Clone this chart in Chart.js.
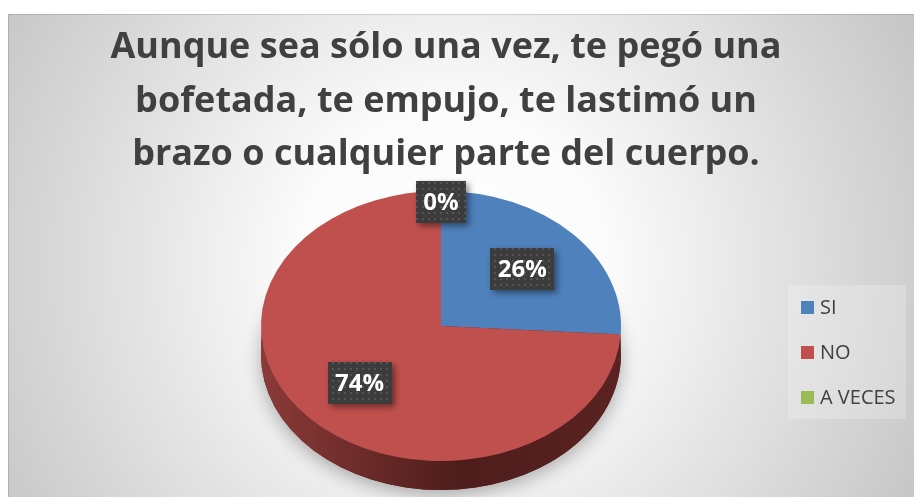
<!DOCTYPE html>
<html>
<head>
<meta charset="utf-8">
<script src="https://cdn.jsdelivr.net/npm/chart.js@4.4.1/dist/chart.umd.min.js"></script>
<style>
  html, body { margin: 0; padding: 0; background: #fff; overflow: hidden; }
  #wrap { width: 914px; height: 497px; overflow: hidden; }
</style>
</head>
<body>
<div id="wrap"><canvas id="pieChart" width="914" height="520"></canvas></div>
<script>
// chart data
const titleLines = [
    'Aunque sea sólo una vez, te pegó una',
    'bofetada, te empujo, te lastimó un',
    'brazo o cualquier parte del cuerpo.'
];
const categories = ['SI', 'NO', 'A VECES'];
const values = [26, 74, 0];
const sliceColors = ['#4F81BD', '#C0504D', '#9BBB59'];
const sideColors = [
    ['#4069a0', '#22405f', '#2a4a70'],
    ['#8c3a38', '#4d1d1c', '#5a2321'],
    ['#7a9446', '#475829', '#55662f']
];

const VIEW_H = 497;  // visible height, the canvas runs a bit past it
const TILT = 0.75;   // vertical squash of the pie top
const DEPTH = 29;    // thickness of the 3d side
const TEXT = '#404040';

// dotted fill used behind the data labels
function makeDots() {
    const c = document.createElement('canvas');
    c.width = 6; c.height = 6;
    const g = c.getContext('2d');
    g.fillStyle = '#3c3c3c';
    g.fillRect(0, 0, 6, 6);
    g.fillStyle = '#545454';
    g.fillRect(2, 2, 2, 2);
    return c;
}
const dotTile = makeDots();

function sideRanges(start, end) {
    const out = [];
    [-2 * Math.PI, 0, 2 * Math.PI].forEach(k => {
        const a0 = Math.max(start + k, 0);
        const a1 = Math.min(end + k, Math.PI);
        if (a1 > a0) out.push([a0, a1]);
    });
    return out;
}

const excelLook = {
    id: 'excelLook',
    beforeDraw(chart) {
        const ctx = chart.ctx;
        const W = chart.width, H = chart.height;
        ctx.save();
        ctx.fillStyle = '#ffffff';
        ctx.fillRect(0, 0, W, H);
        const bg = ctx.createRadialGradient(452, 265, 0, 452, 265, 520);
        bg.addColorStop(0, '#ffffff');
        bg.addColorStop(0.3, '#fbfbfb');
        bg.addColorStop(1, '#c6c6c6');
        ctx.fillStyle = bg;
        ctx.fillRect(8, 14, W - 8, VIEW_H - 14);
        ctx.strokeStyle = 'rgba(0,0,0,0.12)';
        ctx.lineWidth = 1;
        ctx.strokeRect(8.5, 14.5, W - 8, VIEW_H - 14);
        ctx.restore();
    },
    beforeDatasetsDraw(chart) {
        const ctx = chart.ctx;
        const arcs = chart.getDatasetMeta(0).data;
        const cx = arcs[0].x, cy = arcs[0].y, r = arcs[0].outerRadius;
        const ry = r * TILT;

        // soft shadow under the pie
        ctx.save();
        ctx.shadowColor = 'rgba(0,0,0,0.3)';
        ctx.shadowBlur = 18;
        ctx.shadowOffsetY = 5;
        ctx.fillStyle = '#5a2321';
        ctx.beginPath();
        ctx.ellipse(cx, cy + DEPTH, r, ry, 0, 0, 2 * Math.PI);
        ctx.fill();
        ctx.restore();

        // front wall of each slice
        arcs.forEach((arc, i) => {
            sideRanges(arc.startAngle, arc.endAngle).forEach(([a0, a1]) => {
                const grad = ctx.createLinearGradient(cx - r, 0, cx + r, 0);
                grad.addColorStop(0, sideColors[i][0]);
                grad.addColorStop(0.55, sideColors[i][1]);
                grad.addColorStop(1, sideColors[i][2]);
                ctx.fillStyle = grad;
                ctx.beginPath();
                ctx.ellipse(cx, cy, r, ry, 0, a0, a1, false);
                ctx.ellipse(cx, cy + DEPTH, r, ry, 0, a1, a0, true);
                ctx.closePath();
                ctx.fill();
            });
        });

        // tilt the pie top
        ctx.save();
        ctx.translate(cx, cy);
        ctx.scale(1, TILT);
        ctx.translate(-cx, -cy);
    },
    afterDatasetsDraw(chart) {
        const ctx = chart.ctx;
        ctx.restore();

        const arcs = chart.getDatasetMeta(0).data;
        const total = values.reduce((a, b) => a + b, 0);
        const pattern = ctx.createPattern(dotTile, 'repeat');
        ctx.save();
        ctx.font = 'bold 24px "Open Sans"';
        ctx.textAlign = 'center';
        ctx.textBaseline = 'middle';
        arcs.forEach((arc, i) => {
            const mid = (arc.startAngle + arc.endAngle) / 2;
            const f = values[i] > 0 ? 0.62 : 0.92;
            const x = arc.x + Math.cos(mid) * arc.outerRadius * f;
            const y = arc.y + Math.sin(mid) * arc.outerRadius * f * TILT;
            const txt = Math.round(values[i] / total * 100) + '%';
            const w = ctx.measureText(txt).width + 15;
            const h = 42;
            ctx.save();
            ctx.shadowColor = 'rgba(0,0,0,0.45)';
            ctx.shadowBlur = 6;
            ctx.shadowOffsetX = 3;
            ctx.shadowOffsetY = 3;
            ctx.fillStyle = pattern;
            ctx.fillRect(Math.round(x - w / 2), Math.round(y - h / 2), Math.round(w), h);
            ctx.restore();
            ctx.fillStyle = '#ffffff';
            ctx.fillText(txt, x, y + 1);
        });
        ctx.restore();
    },
    afterDraw(chart) {
        const ctx = chart.ctx;
        ctx.save();
        // title
        ctx.fillStyle = TEXT;
        ctx.font = 'bold 36px "Open Sans"';
        ctx.textAlign = 'center';
        ctx.textBaseline = 'middle';
        titleLines.forEach((line, i) => ctx.fillText(line, 446, 48 + i * 53.5));

        // legend
        ctx.fillStyle = 'rgba(255,255,255,0.22)';
        ctx.fillRect(788, 285, 118, 134);
        ctx.font = '20px "Open Sans"';
        ctx.textAlign = 'left';
        categories.forEach((name, i) => {
            const y = 307 + i * 45;
            ctx.fillStyle = sliceColors[i];
            ctx.fillRect(801, y - 6, 13, 13);
            ctx.fillStyle = TEXT;
            ctx.fillText(name, 820, y + 1);
        });
        ctx.restore();
    }
};

new Chart(document.getElementById('pieChart').getContext('2d'), {
    type: 'pie',
    data: {
        labels: categories,
        datasets: [{
            data: values,
            backgroundColor: sliceColors,
            borderWidth: 0,
            offset: 0,
            hoverOffset: 0
        }]
    },
    options: {
        responsive: false,
        animation: false,
        events: [],
        layout: { padding: { top: 146, bottom: 14, left: 261, right: 293 } },
        plugins: {
            legend: { display: false },
            title: { display: false },
            tooltip: { enabled: false }
        }
    },
    plugins: [excelLook]
});
</script>
</body>
</html>
